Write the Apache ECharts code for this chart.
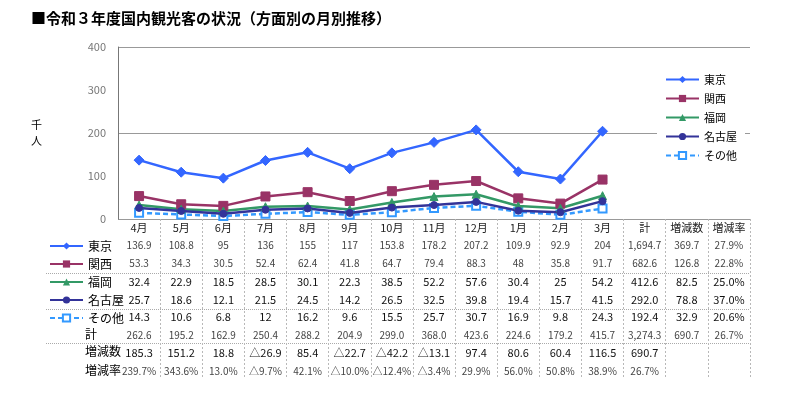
<!DOCTYPE html>
<html>
<head>
<meta charset="utf-8">
<script src="https://cdn.jsdelivr.net/npm/echarts@6/dist/echarts.min.js"></script>
<style>
  html, body { margin: 0; padding: 0; background: #fff; }
  #chart1 { width: 787px; height: 397px; }
</style>
</head>
<body>
<div id="chart1"></div>
<script>
// 月（表の見出し）
var months = ["4月", "5月", "6月", "7月", "8月", "9月", "10月", "11月", "12月", "1月", "2月", "3月"];
var summaryCols = ["計", "増減数", "増減率"];

// 方面別（千人）
var tokyo = [136.9, 108.8, 95, 136, 155, 117, 153.8, 178.2, 207.2, 109.9, 92.9, 204];
var kansai = [53.3, 34.3, 30.5, 52.4, 62.4, 41.8, 64.7, 79.4, 88.3, 48, 35.8, 91.7];
var fukuoka = [32.4, 22.9, 18.5, 28.5, 30.1, 22.3, 38.5, 52.2, 57.6, 30.4, 25, 54.2];
var nagoya = [25.7, 18.6, 12.1, 21.5, 24.5, 14.2, 26.5, 32.5, 39.8, 19.4, 15.7, 41.5];
var others = [14.3, 10.6, 6.8, 12, 16.2, 9.6, 15.5, 25.7, 30.7, 16.9, 9.8, 24.3];

var tokyoSum = ["1,694.7", "369.7", "27.9%"];
var kansaiSum = ["682.6", "126.8", "22.8%"];
var fukuokaSum = ["412.6", "82.5", "25.0%"];
var nagoyaSum = ["292.0", "78.8", "37.0%"];
var othersSum = ["192.4", "32.9", "20.6%"];

var totalRow = [262.6, 195.2, 162.9, 250.4, 288.2, 204.9, 299.0, 368.0, 423.6, 224.6, 179.2, 415.7];
var totalSum = ["3,274.3", "690.7", "26.7%"];
var diffRow = ["185.3", "151.2", "18.8", "△26.9", "85.4", "△22.7", "△42.2", "△13.1", "97.4", "80.6", "60.4", "116.5"];
var diffSum = ["690.7", "", ""];
var rateRow = ["239.7%", "343.6%", "13.0%", "△9.7%", "42.1%", "△10.0%", "△12.4%", "△3.4%", "29.9%", "56.0%", "50.8%", "38.9%"];
var rateSum = ["26.7%", "", ""];

var yTicks = [0, 100, 200, 300, 400];

var FONT = "Noto Sans CJK JP";
var chart1 = echarts.init(document.getElementById("chart1"));

// 表の行を x 軸のラベルとして並べる
function rowAxis(values, offset, size, color) {
  return {
    type: "category",
    gridIndex: 0,
    position: "bottom",
    offset: offset,
    data: values,
    axisLine: { show: false },
    axisTick: { show: false },
    splitLine: { show: false },
    axisLabel: {
      interval: 0,
      margin: 0,
      fontSize: size,
      color: color,
      fontFamily: FONT,
    },
  };
}

var seriesList = [
  { name: "東京", data: tokyo, color: "#3366ff", symbol: "diamond", symbolSize: 10 },
  { name: "関西", data: kansai, color: "#993366", symbol: "rect", symbolSize: 9 },
  { name: "福岡", data: fukuoka, color: "#339966", symbol: "triangle", symbolSize: 8 },
  { name: "名古屋", data: nagoya, color: "#333399", symbol: "circle", symbolSize: 7 },
  { name: "その他", data: others, color: "#3399ff", symbol: "emptyRect", symbolSize: 8, dashed: true },
];

var cols = months.concat(summaryCols);

var option = {
  animation: false,
  backgroundColor: "#fff",
  textStyle: { fontFamily: FONT },
  title: {
    text: "■令和３年度国内観光客の状況（方面別の月別推移）",
    left: 26,
    top: 6,
    textStyle: { fontSize: 15, fontWeight: "bold", color: "#000", fontFamily: FONT },
  },
  grid: {
    left: 118,
    right: 37,
    top: 47,
    bottom: 178,
    outerBoundsMode: "none",
  },
  legend: [
    {
      orient: "vertical",
      left: 657,
      top: 70,
      padding: [4, 8],
      backgroundColor: "#fff",
      itemWidth: 33,
      itemHeight: 9,
      itemGap: 8,
      textStyle: { fontSize: 11, color: "#000", fontFamily: FONT },
      data: seriesList.map(function (s) { return s.name; }),
    },
    {
      orient: "vertical",
      left: 43,
      top: 238,
      padding: [2, 6],
      itemWidth: 33,
      itemHeight: 9,
      itemGap: 6,
      textStyle: { fontSize: 12, color: "#000", fontFamily: FONT },
      data: seriesList.map(function (s) { return s.name; }),
    },
  ],
  xAxis: [
    {
      type: "category",
      data: cols,
      boundaryGap: true,
      axisLine: { show: false },
      axisTick: {
        show: true,
        interval: function (index) { return index > 0; },
        length: 160,
        lineStyle: { color: "#b8b8b8", type: [2, 2] },
      },
      axisLabel: { interval: 0, margin: 3, fontSize: 11, color: "#222", fontFamily: FONT },
      splitLine: { show: false },
    },
    rowAxis(tokyo.map(String).concat(tokyoSum), 21, 10, "#444"),
    rowAxis(kansai.map(String).concat(kansaiSum), 39, 10, "#444"),
    rowAxis(fukuoka.map(String).concat(fukuokaSum), 57, 11, "#111"),
    rowAxis(nagoya.map(String).concat(nagoyaSum), 75, 11, "#111"),
    rowAxis(others.map(String).concat(othersSum), 92, 11, "#111"),
    rowAxis(totalRow.map(function (v) { return v.toFixed(1); }).concat(totalSum), 111, 10, "#444"),
    rowAxis(diffRow.concat(diffSum), 128, 11, "#111"),
    rowAxis(rateRow.concat(rateSum), 147, 10, "#444"),
  ],
  yAxis: [
    {
      type: "value",
      min: yTicks[0],
      max: yTicks[yTicks.length - 1],
      interval: 100,
      name: "千\n人",
      nameLocation: "middle",
      nameGap: 76,
      nameRotate: 0,
      nameTextStyle: { fontSize: 11, color: "#000", lineHeight: 16, fontFamily: FONT },
      axisLine: { show: true, lineStyle: { color: "#777", width: 1 } },
      axisTick: { show: false },
      axisLabel: { fontSize: 11, color: "#777", margin: 12, fontFamily: FONT },
      splitLine: { show: false },
    },
    {
      // 200 ごとの目盛線だけ
      type: "value",
      min: 0,
      max: 400,
      interval: 200,
      axisLine: { show: false },
      axisTick: { show: false },
      axisLabel: { show: false },
      splitLine: { show: true, lineStyle: { color: "#999", width: 1 } },
    },
  ],
  graphic: [
    { type: "text", left: 85, top: 328, style: { text: "計", fontSize: 12, fill: "#000", fontFamily: FONT } },
    { type: "text", left: 85, top: 345, style: { text: "増減数", fontSize: 12, fill: "#000", fontFamily: FONT } },
    { type: "text", left: 85, top: 364, style: { text: "増減率", fontSize: 12, fill: "#000", fontFamily: FONT } },
    { type: "line", shape: { x1: 46, y1: 273.5, x2: 749, y2: 273.5 }, style: { stroke: "#aaa", lineDash: [1, 1] } },
    { type: "line", shape: { x1: 46, y1: 309.5, x2: 749, y2: 309.5 }, style: { stroke: "#aaa", lineDash: [1, 1] } },
    { type: "line", shape: { x1: 46, y1: 343.5, x2: 749, y2: 343.5 }, style: { stroke: "#aaa", lineDash: [1, 1] } },
  ],
  series: seriesList.map(function (s) {
    return {
      name: s.name,
      type: "line",
      data: s.data,
      symbol: s.symbol,
      symbolSize: s.symbolSize,
      z: s.dashed ? 1 : 2,
      itemStyle: { color: s.color, borderColor: s.color },
      lineStyle: { color: s.color, width: 2.5, type: s.dashed ? [5, 3] : "solid" },
    };
  }),
};

chart1.setOption(option);
window.addEventListener("resize", function () {
  chart1.resize();
});
</script>
</body>
</html>
